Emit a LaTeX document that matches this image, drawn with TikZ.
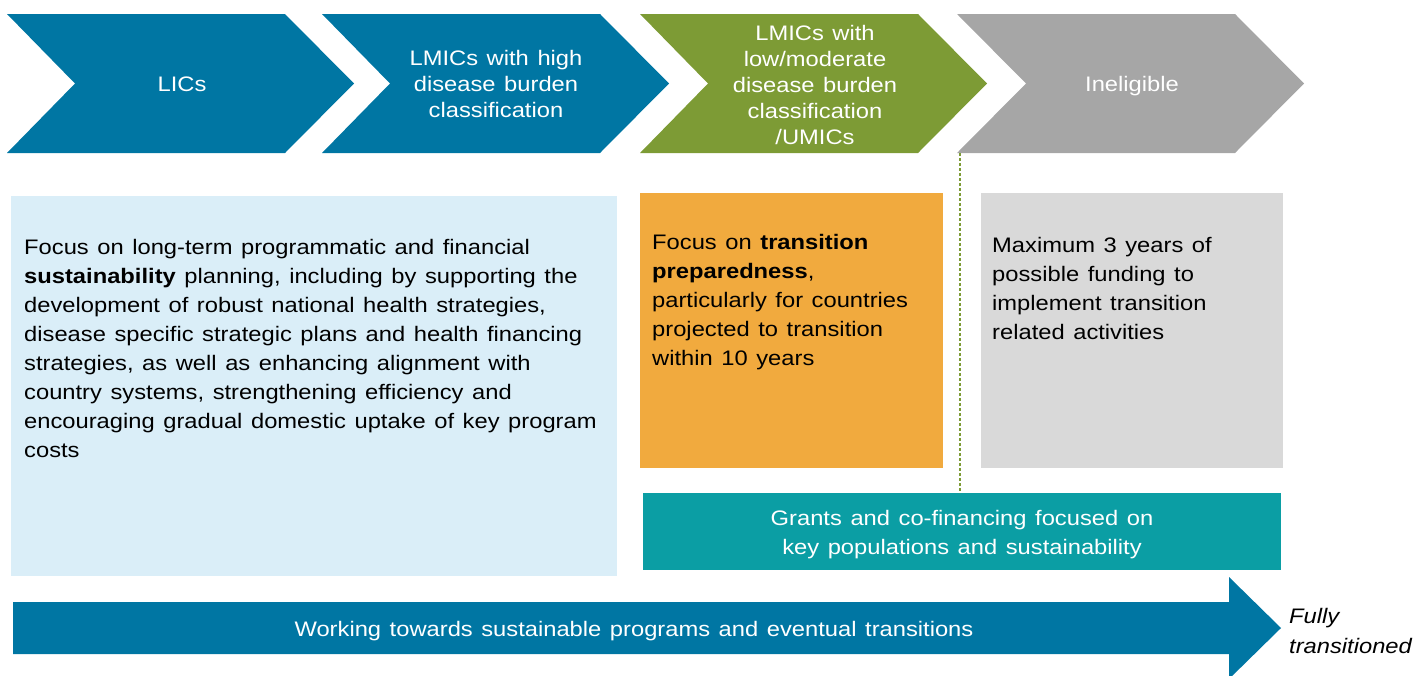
\documentclass[tikz,border=0pt]{standalone}
\usepackage{fontspec}
\setmainfont{Liberation Sans}[FakeStretch=1.13,WordSpace=1.3]
\definecolor{cblue}{HTML}{0076A3}
\definecolor{cgreen}{HTML}{7D9B35}
\definecolor{cgrey}{HTML}{A6A6A6}
\definecolor{clblue}{HTML}{DAEEF8}
\definecolor{corange}{HTML}{F1AA3E}
\definecolor{clgrey}{HTML}{D9D9D9}
\definecolor{cteal}{HTML}{0B9EA4}
\tikzset{
  chevtext/.style={text=white, align=center, font=\fontsize{21}{26}\selectfont, inner sep=0pt},
  boxtext/.style={text=black, align=left, font=\fontsize{21}{29}\selectfont, inner sep=0pt, anchor=west},
  wtext/.style={text=white, align=center, font=\fontsize{21}{29}\selectfont, inner sep=0pt},
}
\begin{document}
\begin{tikzpicture}[x=1pt,y=-1pt]
\useasboundingbox (0,0) rectangle (1416,675);
\clip (0,0) rectangle (1416,675);
% chevrons
\fill[cblue] (7,14) -- (285,14) -- (354,83.5) -- (285,153) -- (7,153) -- (75,83.5) -- cycle;
\fill[cblue] (322,14) -- (600,14) -- (669,83.5) -- (600,153) -- (322,153) -- (390,83.5) -- cycle;
\fill[cgreen] (640,14) -- (918,14) -- (987,83.5) -- (918,153) -- (640,153) -- (708,83.5) -- cycle;
\fill[cgrey] (957,14) -- (1235,14) -- (1304,83.5) -- (1235,153) -- (957,153) -- (1026,83.5) -- cycle;
\node[chevtext] (c1) at (182,84) {LICs};
\node[chevtext] (c2) at (496,84) {LMICs with high\\disease burden\\classification};
\node[chevtext] (c3) at (815,85) {LMICs with\\low/moderate\\disease burden\\classification\\/UMICs};
\node[chevtext] (c4) at (1132,86.5) {Ineligible};
% boxes
\fill[clblue] (11,196) rectangle (617,576);
\fill[corange] (640,193) rectangle (943,468);
\fill[clgrey] (981,193) rectangle (1283,468);
\fill[cteal] (643,493) rectangle (1281,570);
\coordinate (dtop) at (960,153);
\coordinate (dbot) at (960,493);
\draw[cgreen, line width=1.3pt, dash pattern=on 3pt off 2pt] (dtop) -- (dbot);
\node[boxtext] (t1) at (24,348) {Focus on long-term programmatic and financial\\\textbf{sustainability} planning, including by supporting the\\development of robust national health strategies,\\disease specific strategic plans and health financing\\strategies, as well as enhancing alignment with\\country systems, strengthening efficiency and\\encouraging gradual domestic uptake of key program\\costs};
\node[boxtext] (t2) at (652,302.5) {Focus on \textbf{transition}\\\textbf{preparedness},\\particularly for countries\\projected to transition\\within 10 years};
\node[boxtext] (t3) at (992,288) {Maximum 3 years of\\possible funding to\\implement transition\\related activities};
\node[wtext] (t4) at (962,535) {Grants and co-financing focused on\\key populations and sustainability};
% bottom arrow
\fill[cblue] (13,602) -- (1229,602) -- (1229,577) -- (1281,628) -- (1229,679) -- (1229,654) -- (13,654) -- cycle;
\node[wtext] (t5) at (634,631) {Working towards sustainable programs and eventual transitions};
\node[text=black, align=left, anchor=west, inner sep=0pt, font=\fontsize{21}{30}\selectfont\itshape] (t6) at (1289,631) {Fully\\transitioned};
\end{tikzpicture}
\end{document}
